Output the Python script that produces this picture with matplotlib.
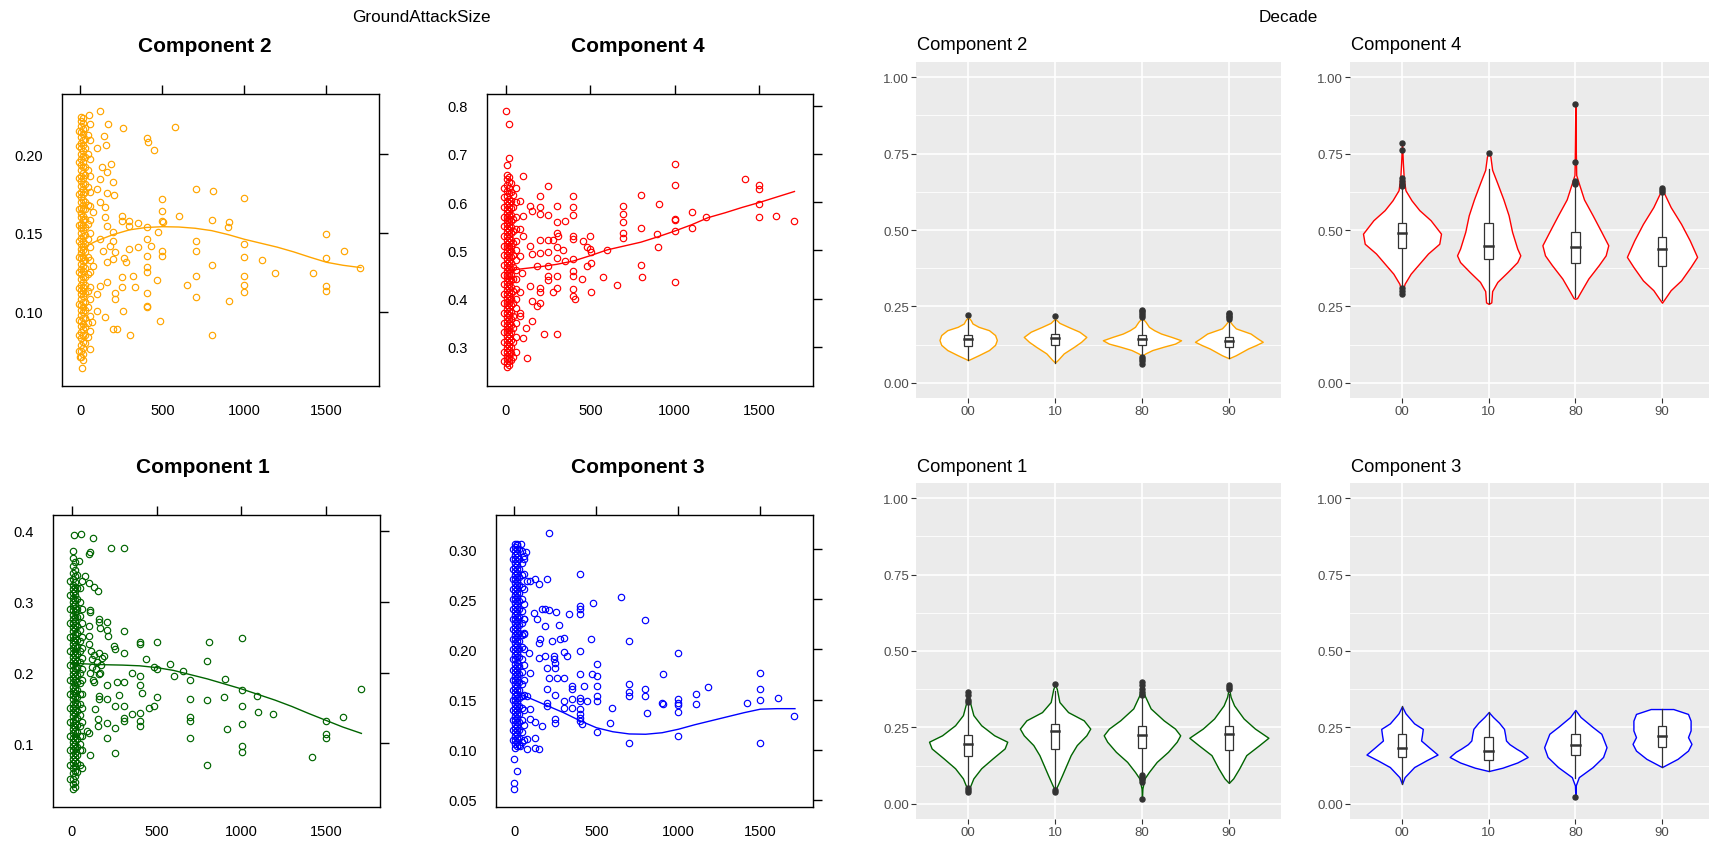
import numpy as np
import matplotlib.pyplot as plt
from matplotlib.patches import Rectangle

plt.rcParams['font.family'] = ['Liberation Sans', 'DejaVu Sans']

W, H = 1709, 845

# ---------------- scatter data (GroundAttackSize vs component) ----------------
comp2_pts = [(119, .2277), (55, .225), (170, .2193), (257, .2165), (579, .2176), (403, .2104), (413, .2076),
             (447, .2028), (144, .2114), (156, .2061), (99, .204), (186, .1939), (130, .1917), (162, .189),
             (119, .1843), (200, .1826), (99, .178), (164, .1754), (204, .1744), (702, .178), (808, .1769),
             (1000, .1723), (500, .1716), (500, .1642), (599, .1606), (500, .1579), (504, .1568), (251, .1606),
             (251, .1579), (298, .1579), (298, .1547), (352, .1564), (403, .1536), (476, .1504), (800, .1585),
             (905, .1572), (897, .154), (702, .1451), (702, .1384), (500, .1384), (500, .1356), (433, .142),
             (403, .1462), (403, .1356), (403, .1282), (403, .1254), (352, .1409), (298, .1399), (277, .1314),
             (265, .1339), (322, .1229), (332, .1155), (251, .1219), (251, .1155), (257, .1007), (464, .1202),
             (403, .1119), (403, .1038), (403, .1028), (484, .0943), (302, .0852), (221, .089), (200, .089),
             (150, .0964), (99, .1007), (69, .0933), (59, .0763), (8, .064), (0, .071), (650, .1172),
             (702, .1229), (702, .1091), (800, .1299), (800, .0852), (905, .107), (1000, .143), (1000, .1346),
             (1000, .1229), (1000, .1172), (1000, .1123), (1107, .1329), (1184, .1246), (1415, .1246),
             (1500, .1494), (1500, .1339), (1500, .1161), (1500, .1134), (1607, .1384), (1702, .1276),
             (200, .1451), (211, .1377), (200, .1335), (180, .142), (119, .1462), (140, .1388), (160, .1314),
             (119, .1166), (160, .1187), (211, .1119), (211, .1081), (99, .1113), (79, .1632), (119, .1695),
             (150, .1663), (150, .16), (162, .1547), (200, .1504), (79, .1293)]
comp2_band = [
    (5, [.071, .075, .079, .083, .087, .091, .094, .098, .101, .104, .108, .111, .114, .117, .121, .124,
         .127, .130, .134, .137, .140, .143, .147, .150, .153, .156, .160, .163, .166, .170, .173, .176,
         .180, .183, .186, .190, .193, .197, .200, .204, .207, .211, .214, .218, .221, .224]),
    (18, [.069, .073, .077, .081, .085, .089, .092, .096, .100, .103, .106, .110, .113, .116, .119, .122,
          .126, .129, .132, .135, .139, .142, .145, .148, .152, .155, .158, .161, .165, .168, .171, .175,
          .178, .181, .185, .188, .192, .195, .199, .202, .206, .209, .213, .216, .220, .223]),
    (-10, [.075, .085, .095, .105, .115, .125, .135, .145, .155, .165, .175, .185, .195, .205, .215]),
    (30, [.080, .085, .090, .096, .101, .106, .112, .117, .122, .128, .133, .138, .143, .149, .154, .159,
          .165, .170, .176, .181, .187, .192, .198, .204, .210, .217]),
    (45, [.084, .093, .103, .113, .124, .135, .146, .156, .168, .179, .190, .200, .212]),
    (60, [.088, .097, .108, .116, .125, .133, .141, .150, .158, .167, .176, .186, .197, .209, .219]),
]
comp2_fit_x = [0, 100, 200, 300, 400, 500, 600, 700, 800, 900, 1000, 1100, 1200, 1300, 1400, 1500, 1600, 1710]
comp2_fit_y = [.140, .145, .149, .152, .1535, .154, .1538, .153, .1515, .149, .146, .1435, .141, .138,
               .1346, .1314, .1295, .128]

comp4_pts = [(0, .788), (16, .761), (16, .692), (6, .676), (100, .655), (252, .633), (203, .612), (400, .612),
             (144, .591), (203, .589), (302, .591), (400, .589), (400, .573), (252, .573), (154, .582),
             (203, .575), (302, .558), (351, .561), (85, .602), (302, .537), (311, .530), (252, .522),
             (278, .522), (203, .522), (400, .529), (400, .523), (499, .530), (459, .520), (479, .506),
             (499, .503), (503, .496), (503, .474), (479, .468), (449, .440), (503, .413), (578, .444),
             (656, .429), (601, .501), (696, .591), (696, .575), (696, .558), (696, .537), (696, .525),
             (798, .615), (798, .546), (798, .470), (808, .444), (893, .534), (903, .506), (909, .596),
             (1003, .678), (1003, .635), (1003, .566), (1003, .563), (1003, .540), (1003, .435), (1100, .579),
             (1100, .546), (1185, .570), (1415, .648), (1500, .635), (1500, .627), (1500, .596), (1500, .570),
             (1603, .572), (1705, .561), (302, .506), (341, .501), (351, .478), (302, .485), (252, .496),
             (203, .494), (154, .492), (183, .468), (252, .468), (252, .447), (302, .446), (252, .439),
             (302, .423), (278, .413), (203, .423), (203, .413), (154, .395), (183, .385), (203, .392),
             (400, .482), (400, .458), (400, .447), (400, .421), (400, .406), (410, .399), (227, .326),
             (302, .326), (124, .278), (154, .354), (104, .319), (120, .340), (85, .371), (85, .413),
             (144, .427), (104, .572), (85, .544), (104, .530), (144, .510), (85, .489), (95, .454), (85, .364)]
comp4_band = [
    (5, [.258, .266, .274, .282, .290, .298, .306, .314, .322, .330, .338, .346, .354, .362, .370, .378,
         .386, .394, .402, .410, .418, .426, .434, .442, .450, .458, .466, .474, .482, .490, .498, .506,
         .514, .522, .530, .538, .546, .554, .562, .570, .578, .586, .594, .602, .612, .624, .636, .648, .656]),
    (18, [.262, .270, .278, .286, .294, .302, .310, .318, .326, .334, .342, .350, .358, .366, .374, .382,
          .390, .398, .406, .414, .422, .430, .438, .446, .454, .462, .470, .478, .486, .494, .502, .510,
          .518, .526, .534, .542, .550, .558, .566, .574, .582, .590, .598, .607, .618, .630, .642, .652]),
    (-10, [.27, .29, .31, .33, .35, .37, .39, .41, .43, .45, .47, .49, .51, .53, .55, .57, .59, .61, .63]),
    (30, [.272, .288, .300, .315, .330, .345, .358, .372, .386, .400, .412, .425, .438, .450, .462, .474,
          .486, .498, .510, .522, .535, .548, .560, .574, .588, .603, .620, .640]),
    (45, [.28, .31, .34, .365, .39, .415, .44, .465, .49, .515, .54, .565, .59, .615]),
    (60, [.29, .32, .35, .38, .40, .42, .44, .46, .48, .50, .52, .545, .57, .60, .63]),
]
comp4_fit_x = [0, 100, 200, 300, 400, 500, 600, 700, 800, 900, 1000, 1100, 1200, 1300, 1400, 1500, 1600, 1710]
comp4_fit_y = [.458, .462, .466, .471, .478, .489, .501, .509, .517, .528, .540, .553, .568, .578, .589,
               .599, .610, .622]

comp1_pts = [(14, .394), (55, .396), (122, .390), (230, .3755), (309, .3755), (98, .368), (108, .370),
             (43, .358), (79, .336), (98, .327), (128, .321), (153, .315), (108, .288), (108, .285),
             (157, .276), (157, .271), (206, .272), (167, .263), (206, .260), (210, .252), (309, .258),
             (250, .2375), (256, .233), (309, .227), (403, .243), (403, .240), (505, .243), (436, .219),
             (482, .208), (505, .205), (580, .2115), (604, .195), (659, .202), (698, .1895), (810, .243),
             (800, .2165), (904, .191), (1007, .249), (1007, .176), (1091, .167), (899, .1655), (698, .163),
             (800, .161), (1007, .153), (1101, .144), (1186, .142), (698, .137), (698, .1315), (698, .108),
             (914, .120), (1007, .127), (1007, .0962), (1007, .0877), (800, .0693), (1416, .081),
             (1500, .1315), (1500, .1127), (1500, .108), (1602, .137), (1705, .177), (505, .166), (482, .153),
             (456, .150), (403, .195), (403, .183), (413, .1715), (403, .143), (403, .1315), (403, .1245),
             (354, .142), (305, .153), (309, .136), (309, .1315), (256, .153), (256, .122), (256, .0858),
             (279, .168), (265, .186), (305, .186), (354, .199), (206, .183), (206, .162), (206, .108),
             (206, .129), (151, .134), (151, .1245), (104, .0835), (88, .117), (98, .115), (59, .0656),
             (157, .167), (157, .162), (167, .2), (157, .228), (187, .2235), (118, .219), (108, .2),
             (98, .252), (98, .266), (128, .186), (138, .148), (49, .0985), (110, .23), (130, .225),
             (150, .215), (170, .21), (120, .208), (140, .205), (160, .198), (180, .22), (100, .24), (125, .19)]
comp1_band = [
    (5, [.035, .042, .050, .058, .065, .072, .078, .084, .090, .096, .102, .108, .114, .120, .126, .132,
         .138, .144, .150, .156, .162, .168, .174, .180, .186, .192, .198, .204, .210, .216, .222, .228,
         .234, .240, .246, .252, .258, .264, .270, .276, .282, .288, .294, .300, .306, .312, .318, .324,
         .332, .340, .350, .362, .372]),
    (18, [.038, .046, .054, .061, .068, .075, .081, .087, .093, .099, .105, .111, .117, .123, .129, .135,
          .141, .147, .153, .159, .165, .171, .177, .183, .189, .195, .201, .207, .213, .219, .225, .231,
          .237, .243, .249, .255, .261, .267, .273, .279, .285, .291, .297, .303, .309, .315, .321, .328,
          .336, .345, .356]),
    (-10, [.05, .07, .09, .11, .13, .15, .17, .19, .21, .23, .25, .27, .29, .31, .33]),
    (30, [.060, .072, .084, .095, .106, .116, .126, .136, .146, .156, .166, .176, .186, .196, .206, .216,
          .226, .236, .246, .256, .266, .278, .290, .304, .320, .338]),
    (45, [.07, .09, .11, .125, .14, .155, .17, .185, .20, .215, .23, .245, .26, .28, .30, .32]),
    (60, [.09, .11, .13, .15, .17, .19, .205, .22, .235, .25, .27, .29, .33]),
]
comp1_fit_x = [0, 100, 200, 300, 400, 500, 600, 700, 800, 900, 1000, 1100, 1200, 1300, 1400, 1500, 1600, 1710]
comp1_fit_y = [.213, .212, .211, .2105, .2095, .207, .203, .197, .191, .184, .177, .169, .161, .152, .142,
               .1325, .123, .114]

comp3_pts = [(209, .3156), (0, .0673), (0, .0606), (16, .0789), (0, .0906), (401, .275), (199, .2707),
             (128, .2707), (148, .265), (77, .2678), (97, .2678), (649, .2518), (478, .2461), (401, .2435),
             (401, .2402), (401, .2352), (330, .2352), (253, .2375), (168, .2408), (188, .2402), (209, .2392),
             (118, .2368), (138, .2302), (184, .2229), (270, .2245), (797, .2289), (701, .2086), (466, .2102),
             (300, .2119), (280, .2102), (229, .2086), (158, .2102), (148, .2069), (401, .1986), (300, .1976),
             (320, .1936), (239, .1930), (239, .1903), (188, .1930), (148, .1910), (999, .1969), (503, .1853),
             (401, .1753), (472, .1753), (503, .1737), (300, .1720), (260, .1720), (209, .1720), (249, .1870),
             (249, .1820), (199, .1820), (904, .1753), (1500, .1770), (426, .1637), (503, .1637), (351, .1637),
             (351, .1604), (701, .1654), (701, .1577), (701, .1537), (797, .1610), (797, .1537), (1182, .1627),
             (1107, .1554), (1107, .1454), (1500, .1610), (1500, .1494), (1607, .1521), (1415, .1464),
             (999, .1504), (999, .1471), (999, .1444), (999, .1378), (898, .1471), (908, .1454), (807, .1364),
             (594, .1421), (580, .1265), (701, .1065), (999, .1138), (1500, .1065), (1702, .1338), (503, .1537),
             (503, .1487), (442, .1487), (401, .1521), (401, .1487), (401, .1404), (401, .1354), (401, .1321),
             (401, .1288), (411, .1255), (503, .1178), (351, .1504), (351, .1421), (300, .1487), (300, .1421),
             (249, .1544), (249, .1305), (249, .1265), (199, .1471), (199, .1438), (199, .1604), (168, .1238),
             (128, .1278), (128, .1122), (128, .1022), (148, .1005), (77, .1005), (77, .1105), (36, .1039),
             (97, .1305), (97, .1404), (77, .1537), (97, .1770), (87, .1969), (57, .2169), (57, .2302),
             (61, .2934), (73, .2967), (41, .305), (16, .305)]
comp3_band = [
    (5, [.102, .106, .110, .114, .118, .122, .126, .130, .134, .138, .142, .146, .150, .154, .158, .162,
         .166, .170, .174, .178, .182, .186, .190, .194, .198, .202, .206, .210, .214, .218, .222, .226,
         .230, .234, .238, .242, .246, .250, .254, .258, .262, .266, .270, .274, .278, .282, .286, .290,
         .294, .298, .302, .305]),
    (18, [.104, .108, .112, .116, .120, .124, .128, .132, .136, .140, .144, .148, .152, .156, .160, .164,
          .168, .172, .176, .180, .184, .188, .192, .196, .200, .204, .208, .212, .216, .220, .224, .228,
          .232, .236, .240, .244, .248, .252, .256, .260, .264, .268, .272, .276, .280, .284, .288, .292,
          .296, .300, .304]),
    (-10, [.11, .12, .13, .14, .15, .16, .17, .18, .19, .20, .21, .22, .23, .24, .25, .26, .27, .28, .29, .30]),
    (30, [.105, .112, .120, .128, .136, .144, .152, .160, .168, .176, .184, .192, .200, .208, .216, .224,
          .232, .240, .248, .256, .264, .272, .280, .290, .300]),
    (45, [.108, .118, .130, .142, .154, .166, .178, .190, .202, .214, .226, .238, .250, .262, .274, .286, .298]),
    (60, [.11, .125, .14, .155, .17, .185, .20, .215, .23, .245, .26, .275, .29]),
]
comp3_fit_x = [0, 100, 200, 300, 400, 500, 600, 700, 800, 900, 1000, 1100, 1200, 1300, 1400, 1500, 1600, 1710]
comp3_fit_y = [.158, .151, .144, .137, .129, .122, .118, .1158, .1155, .117, .1205, .125, .129, .133, .137,
               .1405, .141, .141]

# ---------------- violin data (component by decade) ----------------
decades = ['00', '10', '80', '90']

v2_levels = [[.074, .09, .107, .124, .14, .156, .172, .183, .194, .205, .215],
             [.066, .074, .096, .118, .134, .150, .167, .183, .196, .21],
             [.088, .096, .107, .118, .128, .139, .15, .161, .172, .183, .20, .212],
             [.08, .09, .101, .112, .123, .134, .145, .161, .178, .19, .205]]
v2_widths = [[0, .12, .24, .31, .33, .31, .24, .12, .05, .03, 0],
             [0, .03, .10, .22, .30, .36, .28, .15, .05, 0],
             [0, .04, .12, .25, .38, .45, .34, .22, .14, .08, .04, 0],
             [0, .08, .15, .22, .31, .39, .33, .25, .08, .04, 0]]
v2_box = [[.075, .12, .143, .156, .21], [.066, .122, .145, .158, .205],
          [.095, .125, .143, .157, .205], [.08, .118, .135, .150, .20]]
v2_out = [[.221], [.22], [.061, .07, .078, .085, .216, .222, .228, .234, .238], [.21, .215, .22, .225, .228]]

v4_levels = [[.29, .324, .357, .39, .423, .455, .488, .532, .565, .597, .63, .67, .72, .79],
             [.258, .263, .30, .33, .363, .395, .417, .439, .494, .548, .60, .653, .697, .74, .755],
             [.275, .277, .297, .341, .385, .417, .45, .494, .548, .60, .653, .68, .75, .91],
             [.262, .27, .303, .335, .379, .412, .466, .52, .575, .617, .635]]
v4_widths = [[0, .03, .1, .2, .3, .43, .45, .33, .2, .11, .04, .02, .01, 0],
             [0, .03, .04, .1, .22, .33, .365, .33, .27, .23, .17, .1, .04, .02, 0],
             [0, .02, .06, .15, .27, .35, .38, .3, .2, .1, .04, .01, .006, 0],
             [0, .02, .1, .22, .33, .405, .32, .22, .1, .03, 0]]
v4_box = [[.32, .44, .489, .524, .64], [.26, .404, .449, .524, .70],
          [.28, .393, .445, .495, .64], [.27, .383, .437, .476, .62]]
v4_out = [[.785, .763, .671, .66, .65, .644, .31, .30, .29], [.752], [.911, .724, .66, .655, .65], [.636, .63, .626]]

v1_levels = [[.039, .055, .083, .116, .148, .181, .203, .224, .257, .29, .333, .36],
             [.044, .061, .093, .126, .159, .192, .224, .246, .273, .3, .333, .376, .39],
             [.015, .05, .083, .104, .137, .17, .203, .224, .246, .273, .312, .355, .40],
             [.068, .083, .116, .159, .192, .216, .246, .279, .322, .35, .38]]
v1_widths = [[0, .02, .06, .15, .28, .42, .45, .3, .15, .06, .02, 0],
             [0, .03, .08, .13, .18, .25, .36, .405, .33, .15, .05, .02, 0],
             [0, .005, .03, .08, .17, .3, .4, .44, .38, .25, .1, .03, 0],
             [0, .05, .12, .2, .35, .455, .3, .17, .06, .02, 0]]
v1_box = [[.05, .156, .194, .226, .33], [.05, .18, .237, .262, .37],
          [.09, .182, .224, .253, .35], [.07, .175, .227, .253, .36]]
v1_out = [[.04, .045, .05, .333, .34, .355, .365], [.04, .045, .393],
          [.015, .072, .08, .088, .093, .355, .365, .375, .39, .40], [.376, .382, .388]]

v3_levels = [[.065, .087, .12, .142, .161, .185, .207, .224, .245, .263, .296, .319],
             [.107, .118, .135, .153, .17, .18, .195, .207, .225, .245, .265, .284, .30],
             [.02, .06, .087, .12, .153, .185, .229, .251, .284, .307],
             [.12, .147, .174, .196, .218, .24, .272, .294, .31]]
v3_widths = [[0, .03, .14, .28, .41, .31, .22, .23, .24, .14, .04, 0],
             [0, .16, .33, .45, .38, .32, .24, .2, .19, .177, .12, .05, 0],
             [0, .005, .04, .2, .32, .36, .3, .2, .06, 0],
             [0, .18, .3, .34, .30, .33, .33, .3, .13]]
v3_box = [[.065, .153, .183, .227, .32], [.107, .142, .172, .218, .30],
          [.085, .158, .193, .227, .30], [.12, .185, .221, .256, .31]]
v3_out = [[], [], [.022], []]

fig = plt.figure(figsize=(W / 100, H / 100), dpi=100)


def px_axes(x0, y0, x1, y1):
    return fig.add_axes([x0 / W, 1 - y1 / H, (x1 - x0) / W, (y1 - y0) / H])


def lattice_panel(box, title, tpos, color, pts, bands, fit_x, fit_y, ylim, yticks, ylabels):
    ax = px_axes(*box)
    mk = dict(ls='none', marker='o', ms=4.6, mfc='none', mec=color, mew=0.85)
    xs, ys = zip(*pts)
    ax.plot(xs, ys, **mk)
    for bx, by in bands:
        ax.plot([bx] * len(by), by, **mk)
    ax.plot(fit_x, fit_y, color=color, lw=1.0)
    ax.set_xlim(-112, 1820)
    ax.set_ylim(*ylim)
    ax.set_xticks([0, 500, 1000, 1500])
    ax.set_xticklabels(['0', '500', '1000', '1500'])
    ax.set_yticks(yticks)
    ax.set_yticklabels(ylabels)
    ax.tick_params(axis='both', direction='out', length=6.5, width=1.0, labelsize=10.5)
    ax.tick_params(axis='x', bottom=False, top=True, labelbottom=True, pad=5.5)
    ax.tick_params(axis='y', left=False, right=True, labelleft=True, pad=7)
    for s in ax.spines.values():
        s.set_linewidth(1.0)
    fig.text(tpos[0] / W, 1 - tpos[1] / H, title, ha='center', va='center',
             fontsize=15, fontweight='bold')


def gg_panel(box, title, tpos, color, levels, widths, boxes, outs):
    ax = px_axes(*box)
    ax.set_facecolor('#EBEBEB')
    ax.set_xlim(0.4, 4.6)
    ax.set_ylim(-0.05, 1.05)
    for y in [0.125, 0.375, 0.625, 0.875]:
        ax.axhline(y, color='white', lw=0.6, zorder=0.5)
    for y in [0, 0.25, 0.5, 0.75, 1.0]:
        ax.axhline(y, color='white', lw=1.2, zorder=0.6)
    for x in range(1, 5):
        ax.axvline(x, color='white', lw=1.2, zorder=0.6)
    for i, (lv, wd, bx, ot) in enumerate(zip(levels, widths, boxes, outs)):
        c = i + 1
        lv = np.array(lv)
        wd = np.array(wd)
        ax.fill_betweenx(lv, c - wd, c + wd, facecolor='white', edgecolor=color, lw=1.0, zorder=2)
        wlo, q1, med, q3, whi = bx
        ax.plot([c, c], [wlo, q1], color='#333333', lw=0.9, zorder=3)
        ax.plot([c, c], [q3, whi], color='#333333', lw=0.9, zorder=3)
        ax.add_patch(Rectangle((c - 0.05, q1), 0.1, q3 - q1, facecolor='white',
                               edgecolor='#333333', lw=0.9, zorder=3))
        ax.plot([c - 0.05, c + 0.05], [med, med], color='#333333', lw=1.8, zorder=4)
        if ot:
            ax.plot([c] * len(ot), ot, ls='none', marker='o', ms=3.6, color='#333333', zorder=5)
    for s in ax.spines.values():
        s.set_visible(False)
    ax.set_xticks([1, 2, 3, 4])
    ax.set_xticklabels(decades)
    ax.set_yticks([0, 0.25, 0.5, 0.75, 1.0])
    ax.set_yticklabels(['0.00', '0.25', '0.50', '0.75', '1.00'])
    ax.tick_params(length=3.5, width=0.8, color='#333333', labelcolor='#4D4D4D', labelsize=9.5, pad=1.5)
    fig.text(tpos[0] / W, 1 - tpos[1] / H, title, ha='left', va='center', fontsize=13.2)


lattice_panel((62, 95, 379, 387), 'Component 2', (205, 47), '#FFA500', comp2_pts, comp2_band,
              comp2_fit_x, comp2_fit_y, (0.0528, 0.2383), [0.10, 0.15, 0.20], ['0.10', '0.15', '0.20'])
lattice_panel((487, 95, 813, 387), 'Component 4', (638, 47), '#FF0000', comp4_pts, comp4_band,
              comp4_fit_x, comp4_fit_y, (0.219, 0.824), [0.3, 0.4, 0.5, 0.6, 0.7, 0.8],
              ['0.3', '0.4', '0.5', '0.6', '0.7', '0.8'])
lattice_panel((53, 516, 380, 808), 'Component 1', (203, 468), '#006400', comp1_pts, comp1_band,
              comp1_fit_x, comp1_fit_y, (0.010, 0.4226), [0.1, 0.2, 0.3, 0.4], ['0.1', '0.2', '0.3', '0.4'])
lattice_panel((496, 516, 813, 808), 'Component 3', (638, 468), '#0000FF', comp3_pts, comp3_band,
              comp3_fit_x, comp3_fit_y, (0.043, 0.334), [0.05, 0.10, 0.15, 0.20, 0.25, 0.30],
              ['0.05', '0.10', '0.15', '0.20', '0.25', '0.30'])

gg_panel((916, 63, 1281, 399), 'Component 2', (917, 45), '#FFA500', v2_levels, v2_widths, v2_box, v2_out)
gg_panel((1350, 63, 1714, 399), 'Component 4', (1351, 45), '#FF0000', v4_levels, v4_widths, v4_box, v4_out)
gg_panel((916, 484, 1281, 820), 'Component 1', (917, 468), '#006400', v1_levels, v1_widths, v1_box, v1_out)
gg_panel((1350, 484, 1714, 820), 'Component 3', (1351, 468), '#0000FF', v3_levels, v3_widths, v3_box, v3_out)

fig.text(421 / W, 1 - 17 / H, 'GroundAttackSize', ha='center', va='center', fontsize=12.3)
fig.text(1288 / W, 1 - 17 / H, 'Decade', ha='center', va='center', fontsize=12.3)

fig.savefig('out.png', dpi=100, facecolor='white')
